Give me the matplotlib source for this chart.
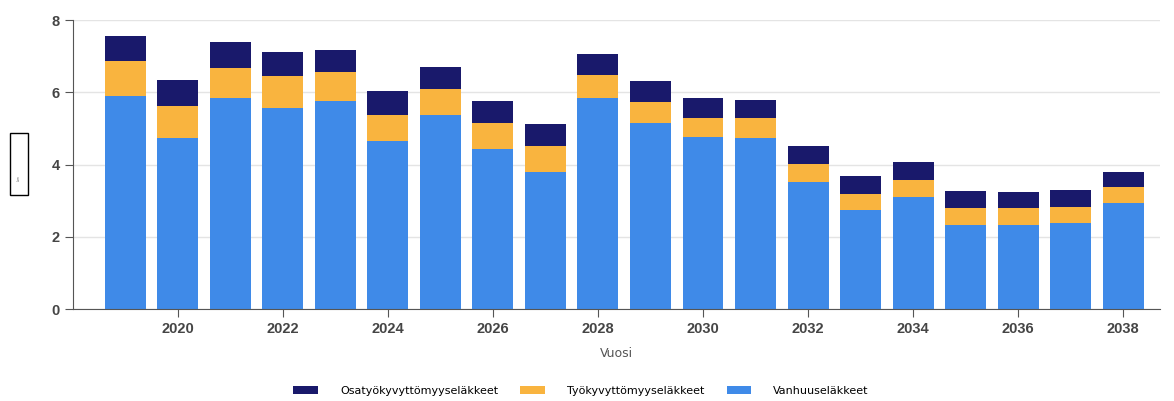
import numpy as np
import matplotlib.pyplot as plt
from matplotlib.patches import Rectangle

# Data
years = np.arange(2019, 2039)
vanhuus = [5.90, 4.75, 5.84, 5.57, 5.77, 4.64, 5.36, 4.44, 3.80, 5.83,
           5.14, 4.76, 4.73, 3.53, 2.74, 3.09, 2.32, 2.32, 2.39, 2.95]
tyokyvyttomyys = [0.96, 0.86, 0.84, 0.87, 0.78, 0.74, 0.72, 0.70, 0.72, 0.64,
                  0.59, 0.53, 0.56, 0.49, 0.46, 0.48, 0.49, 0.49, 0.45, 0.42]
osatyokyvyttomyys = [0.70, 0.72, 0.70, 0.67, 0.62, 0.67, 0.63, 0.63, 0.59, 0.59,
                     0.57, 0.54, 0.49, 0.50, 0.48, 0.49, 0.47, 0.42, 0.46, 0.43]

c_blue = "#3f8ae8"
c_yellow = "#f9b43f"
c_navy = "#19196b"

fig = plt.figure(figsize=(11.74, 4.01), dpi=100)
ax = fig.add_axes([0.062, 0.229, 0.926, 0.721])

w = 0.78
b1 = ax.bar(years, vanhuus, width=w, color=c_blue, label="Vanhuuseläkkeet")
b2 = ax.bar(years, tyokyvyttomyys, width=w, bottom=vanhuus, color=c_yellow,
            label="Työkyvyttömyyseläkkeet")
bottom2 = np.array(vanhuus) + np.array(tyokyvyttomyys)
b3 = ax.bar(years, osatyokyvyttomyys, width=w, bottom=bottom2, color=c_navy,
            label="Osatyökyvyttömyyseläkkeet")

ax.set_xlim(2018.0, 2038.7)
ax.set_ylim(0, 8)
ax.set_yticks([0, 2, 4, 6, 8])
ax.set_xticks(np.arange(2020, 2039, 2))
ax.grid(axis="y", color="#e4e4e4", linewidth=1)
ax.set_axisbelow(True)

for s in ["top", "right"]:
    ax.spines[s].set_visible(False)
ax.spines["left"].set_color("#555555")
ax.spines["bottom"].set_color("#555555")
ax.tick_params(colors="#555555", labelcolor="#454545", length=6)
for lbl in ax.get_xticklabels() + ax.get_yticklabels():
    lbl.set_fontfamily("Liberation Sans")
    lbl.set_fontweight("bold")
    lbl.set_fontsize(10.5)

ax.set_xlabel("Vuosi", fontsize=9, color="#555555", labelpad=8)

# small boxed y-axis label
fig.patches.append(Rectangle((0.0085, 0.514), 0.0153, 0.155, transform=fig.transFigure,
                             fill=False, edgecolor="black", linewidth=1))
fig.text(0.0161, 0.555, "Lkm", rotation=90, fontsize=2, ha="center", va="center",
         color="#555555")

fig.legend(handles=[b3, b2, b1], loc="center", bbox_to_anchor=(0.495, 0.025),
           ncol=3, frameon=False, fontsize=8, handlelength=2.2, handleheight=0.8,
           handletextpad=2.0, columnspacing=2.0)

fig.savefig("out.png", dpi=100)
